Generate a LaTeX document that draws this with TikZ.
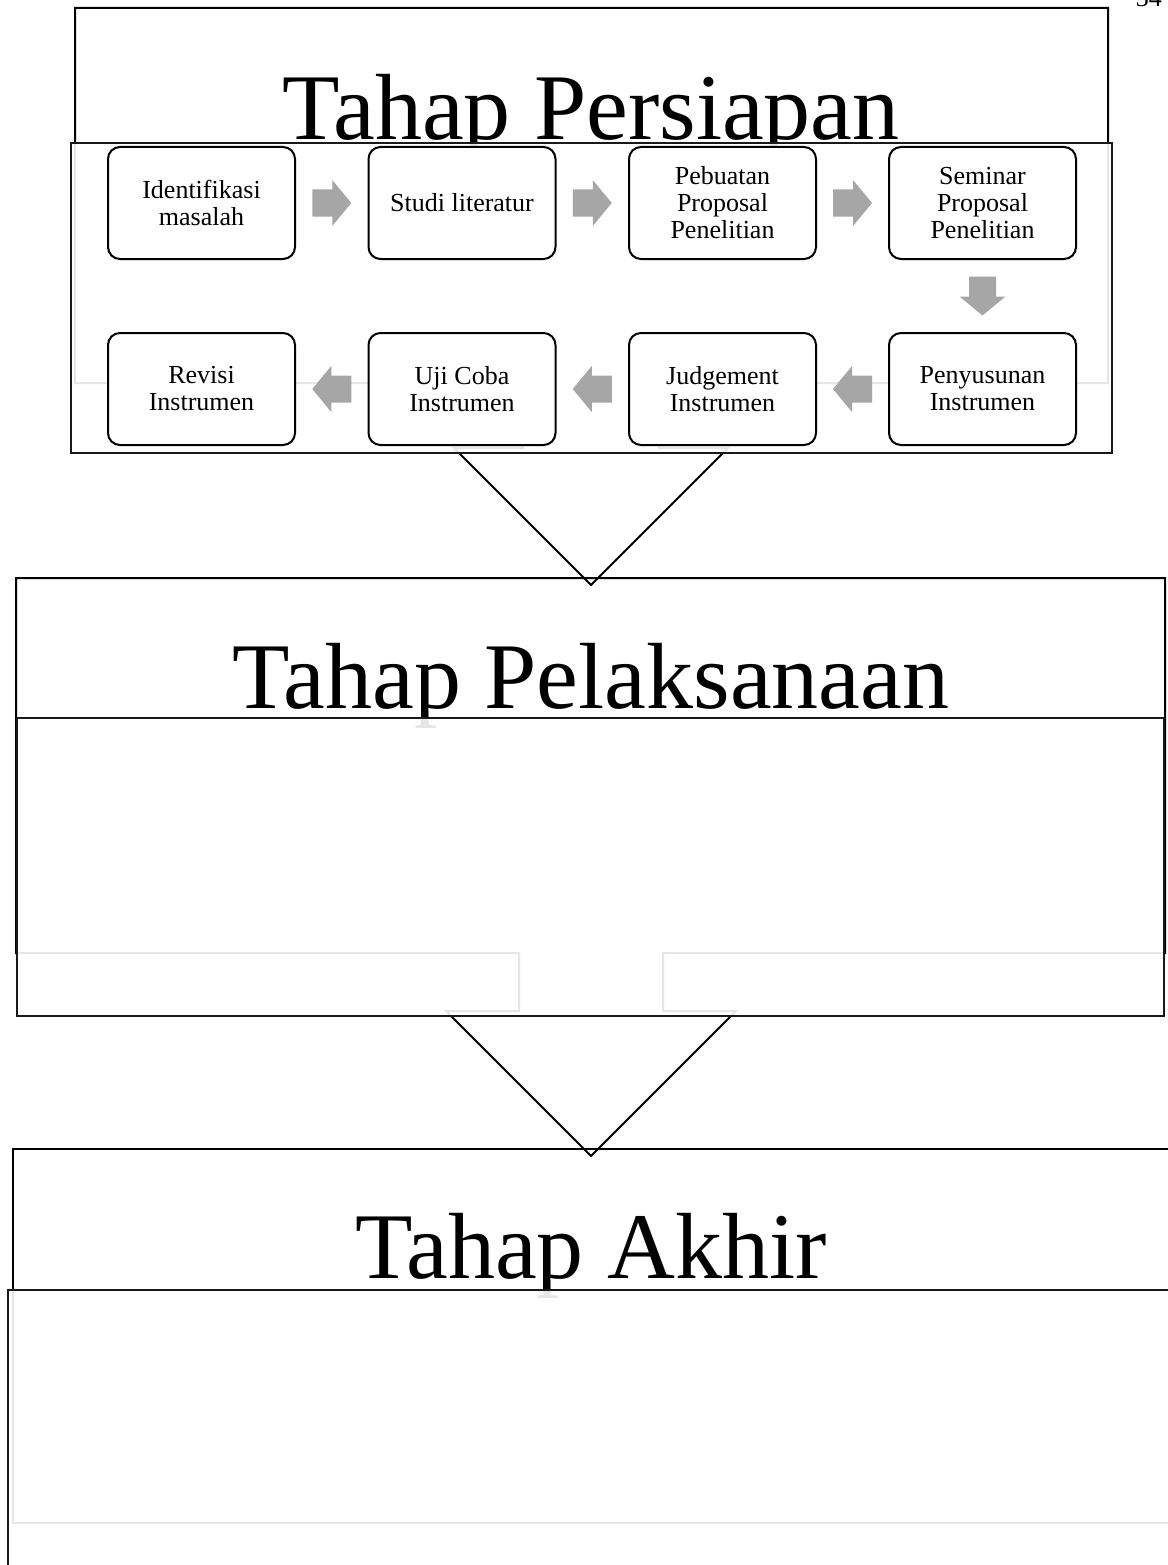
\documentclass[tikz,border=0pt]{standalone}
\usepackage{fontspec}
\setmainfont{Liberation Serif}
\usetikzlibrary{calc}
\definecolor{arrowgray}{HTML}{A6A6A6}
\begin{document}
\begin{tikzpicture}[x=1pt,y=-1pt,
  hdr/.style={draw=black, line width=2pt, line join=miter},
  content/.style={draw=black!90, line width=2.6pt, fill=white, fill opacity=0.9},
  stepbox/.style={draw=black, line width=2pt, rounded corners=12pt, fill=white,
    minimum width=187pt, minimum height=112pt, align=center,
    font=\fontsize{26}{27}\selectfont, inner sep=2pt},
  title/.style={font=\fontsize{94}{100}\selectfont, anchor=base, inner sep=0pt},
  rarrow/.pic={\fill[arrowgray] (-19.5,-13.5) -- (0.5,-13.5) -- (0.5,-23) -- (19.5,0) -- (0.5,23) -- (0.5,13.5) -- (-19.5,13.5) -- cycle;},
  larrow/.pic={\fill[arrowgray] (19.5,-13.5) -- (-0.5,-13.5) -- (-0.5,-23) -- (-19.5,0) -- (-0.5,23) -- (-0.5,13.5) -- (19.5,13.5) -- cycle;},
  darrow/.pic={\fill[arrowgray] (-13.5,-19.5) -- (-13.5,0.5) -- (-23,0.5) -- (0,19.5) -- (23,0.5) -- (13.5,0.5) -- (13.5,-19.5) -- cycle;}
]
\useasboundingbox (0,0) rectangle (1167,1565);

% page number (partly cut off at the top)
\node[font=\fontsize{26}{27}\selectfont, anchor=base east, inner sep=0pt] (pg) at (1162,7) {34};

% stage headers (down-arrow callouts)
\draw[hdr] (75,8) -- (1108,8) -- (1108,383) -- (659,383) -- (659,448) -- (728,448)
  -- (591,585) -- (454,448) -- (523,448) -- (523,383) -- (75,383) -- cycle;
\draw[hdr] (16,578) -- (1165,578) -- (1165,953) -- (663,953) -- (663,1011) -- (736,1011)
  -- (591,1156) -- (446,1011) -- (519,1011) -- (519,953) -- (16,953) -- cycle;
\draw[hdr] (13,1149) rectangle (1169,1523);

\node[title] (t1) at (591,140) {Tahap Persiapan};
\node[title] (t2) at (591,708) {Tahap Pelaksanaan};
\node[title] (t3) at (591,1278) {Tahap Akhir};

% content panels
\draw[content] (71,143) rectangle (1112,453);
\draw[content] (17,718) rectangle (1164,1016);
\draw[content] (8,1290) rectangle (1174,1620);

% steps
\node[stepbox] (b1) at (201.5,203) {Identifikasi\\masalah};
\node[stepbox] (b2) at (462,203) {Studi literatur};
\node[stepbox] (b3) at (722.5,203) {Pebuatan\\Proposal\\Penelitian};
\node[stepbox] (b4) at (982.5,203) {Seminar\\Proposal\\Penelitian};
\node[stepbox] (b5) at (982.5,389) {Penyusunan\\Instrumen};
\node[stepbox] (b6) at (722.5,389) {Judgement\\Instrumen};
\node[stepbox] (b7) at (462,389) {Uji Coba\\Instrumen};
\node[stepbox] (b8) at (201.5,389) {Revisi\\Instrumen};

% connectors (block arrows)
\coordinate (a1) at ($(b1.east)!0.5!(b2.west)$);
\coordinate (a2) at ($(b2.east)!0.5!(b3.west)$);
\coordinate (a3) at ($(b3.east)!0.5!(b4.west)$);
\coordinate (a4) at ($(b4.south)!0.5!(b5.north)$);
\coordinate (a5) at ($(b5.west)!0.5!(b6.east)$);
\coordinate (a6) at ($(b6.west)!0.5!(b7.east)$);
\coordinate (a7) at ($(b7.west)!0.5!(b8.east)$);
\pic at (a1) {rarrow};
\pic at (a2) {rarrow};
\pic at (a3) {rarrow};
\pic at (a4) {darrow};
\pic at (a5) {larrow};
\pic at (a6) {larrow};
\pic at (a7) {larrow};
\end{tikzpicture}
\end{document}
